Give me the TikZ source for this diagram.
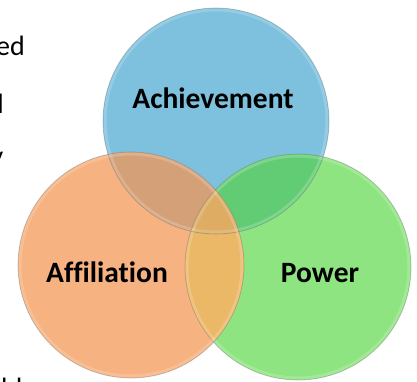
\documentclass[tikz,border=0pt]{standalone}
\usepackage{fontspec}
\setmainfont{Carlito}[Ligatures=NoCommon]
\definecolor{achblue}{RGB}{125,193,222}
\definecolor{powgreen}{RGB}{142,228,128}
\definecolor{affor}{RGB}{246,178,128}
\definecolor{blueorange}{RGB}{212,160,120}
\definecolor{bluegreen}{RGB}{98,204,116}
\definecolor{orangegreen}{RGB}{234,184,102}
\definecolor{allthree}{RGB}{222,172,98}
\begin{document}
\begin{tikzpicture}[x=1pt,y=-1pt,
  lbl/.style={font=\fontsize{29.5}{35}\selectfont\bfseries, inner sep=0pt, anchor=base},
  bodytext/.style={font=\fontsize{28}{34}\selectfont, inner sep=0pt},
  rimglow/.style={draw=white, line width=3pt, opacity=0.18},
  rimline/.style={draw=black!55, line width=0.7pt, opacity=0.4}]
\useasboundingbox (0,0) rectangle (417,381);
\fill[white] (0,0) rectangle (417,381);
\begin{scope}
\clip (0,0) rectangle (417,381);

% ends of the body text lines running in from the left
\node[bodytext, anchor=base east] (line1) at (25,55) {ed};
\node[bodytext, anchor=base east] (line2) at (4,113) {l};
\node[bodytext, anchor=base east] (line3) at (3.5,165) {y};
\node[bodytext, anchor=base west] (line4) at (1,397) {ld};

% circle centres
\coordinate (A) at (216,121);
\coordinate (P) at (298,267);
\coordinate (F) at (131,265);

% plain fills
\fill[achblue] (A) circle[radius=113];
\fill[powgreen] (P) circle[radius=113];
\fill[affor] (F) circle[radius=113];

% overlap regions
\begin{scope}
  \clip (P) circle[radius=113];
  \fill[orangegreen] (F) circle[radius=113];
\end{scope}
\begin{scope}
  \clip (A) circle[radius=113];
  \fill[bluegreen] (P) circle[radius=113];
  \fill[blueorange] (F) circle[radius=113];
  \begin{scope}
    \clip (P) circle[radius=113];
    \fill[allthree] (F) circle[radius=113];
  \end{scope}
\end{scope}

% soft inner rims and outlines
\foreach \c in {A,P,F} {
  \draw[rimglow] (\c) circle[radius=111];
  \draw[rimline] (\c) circle[radius=113];
}

% labels
\node[lbl] (ach) at (213,108) {Achievement};
\node[lbl] (pow) at (320,282) {Power};
\node[lbl] (aff) at (107,282) {Affiliation};
\end{scope}
\end{tikzpicture}
\end{document}
